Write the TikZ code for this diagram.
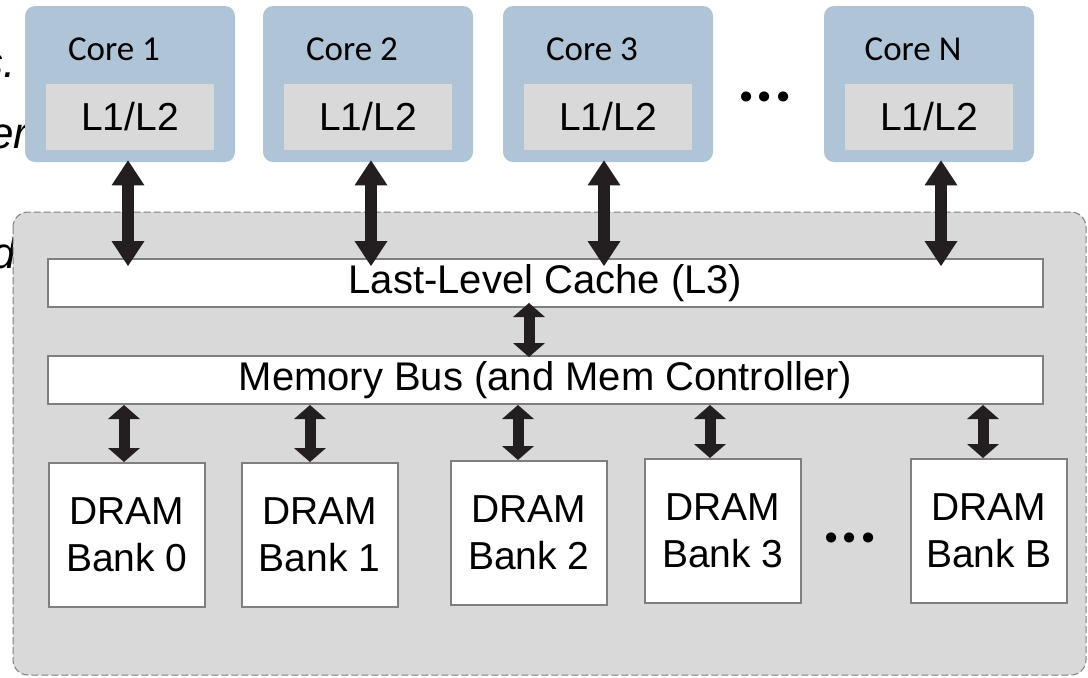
\documentclass[tikz,border=0pt]{standalone}
\usepackage{fontspec}
\setmainfont{Liberation Sans}
\newfontfamily\corefont{Carlito}
\usetikzlibrary{arrows.meta,positioning}
\definecolor{coreblue}{RGB}{176,196,216}
\definecolor{cachegray}{RGB}{217,217,217}
\definecolor{edgegray}{RGB}{127,127,127}
\definecolor{arrowdark}{RGB}{35,31,32}

\begin{document}
\begin{tikzpicture}[
  x=0.5pt, y=-0.5pt,
  core/.style={rectangle, rounded corners=5pt, fill=coreblue,
               minimum width=105pt, minimum height=78pt, inner sep=0pt},
  lcache/.style={rectangle, fill=cachegray, minimum width=84pt, minimum height=33pt,
                 inner sep=0pt, font=\fontsize{19.5}{23}\selectfont},
  corelab/.style={font=\corefont\fontsize{17.5}{21}\selectfont, anchor=base, inner sep=0pt},
  busbar/.style={rectangle, draw=edgegray, line width=1pt, fill=white,
                 minimum width=497.5pt, minimum height=24pt, inner sep=0pt,
                 font=\fontsize{20}{24}\selectfont},
  bank/.style={rectangle, draw=edgegray, line width=1pt, fill=white,
               minimum width=78pt, minimum height=72pt, inner sep=0pt, align=center,
               font=\fontsize{19.5}{23.5}\selectfont},
  ellip/.style={font=\corefont\bfseries\fontsize{34}{34}\selectfont, inner sep=0pt},
  frag/.style={font=\itshape\fontsize{22}{26}\selectfont, anchor=base east, inner sep=0pt},
  bigarr/.style={line width=6pt, color=arrowdark,
    {Triangle[length=12.5pt,width=16.5pt,line width=0pt]}-{Triangle[length=12.5pt,width=16.5pt,line width=0pt]}},
  smallarr/.style={line width=5.5pt, color=arrowdark,
    {Triangle[length=7pt,width=16pt,line width=0pt]}-{Triangle[length=7pt,width=16pt,line width=0pt]}},
]
\clip (0,0) rectangle (1088,677);

% bits of the neighbouring text
\node[frag] (fragS) at (16,77) {s.};
\node[frag] (fragE) at (29,148) {er};
\node[frag] (fragD) at (16,268) {d};

% shared part of the chip
\draw[draw=edgegray, fill=cachegray, line width=0.5pt, dash pattern=on 3.5pt off 1.5pt,
      rounded corners=7.5pt] (13,212) rectangle (1086,675);

% cores with private caches
\foreach \c/\x in {1/130,2/368,3/608,N/929} {
  \node[core] (core\c) at (\x,84) {};
  \node[lcache, above=6pt of core\c.south] (lc\c) {L1/L2};
  \node[corelab] (lab\c) at ([xshift=-8pt,yshift=-27.5pt]core\c.north) {Core \c};
}
\node[ellip] (morecores) at (765,97) {...};

\node[busbar] (llc) at (545.5,283) {Last-Level Cache (L3)};
\node[busbar, below=23.5pt of llc] (membus) {Memory Bus (and Mem Controller)};

\foreach \b/\x/\y in {0/127/535,1/319.5/535,2/529/533,3/723/531,B/989/531}
  \node[bank] (bank\b) at (\x,\y) {DRAM\\Bank \b};
\node[ellip] (morebanks) at (850,538) {...};

% core <-> LLC
\foreach \c/\dx in {1/-1pt,2/1.5pt,3/-2pt,N/6pt} {
  \coordinate (up\c) at ([xshift=\dx]core\c.south);
  \draw[bigarr, shorten <=-1pt, shorten >=-4pt] (up\c) -- (up\c |- llc.north);
}
% LLC <-> memory bus
\coordinate (mid) at ([xshift=-8.25pt]llc.south);
\draw[smallarr, shorten <=-2.5pt, shorten >=-1pt] (mid) -- (mid |- membus.north);
% memory bus <-> banks
\foreach \b/\dx in {0/-1.5pt,1/-4.75pt,2/-5.5pt,3/-6.5pt,B/-3pt} {
  \coordinate (dn\b) at ([xshift=\dx]bank\b.north);
  \draw[smallarr] (dn\b |- membus.south) -- (dn\b);
}
\end{tikzpicture}
\end{document}
